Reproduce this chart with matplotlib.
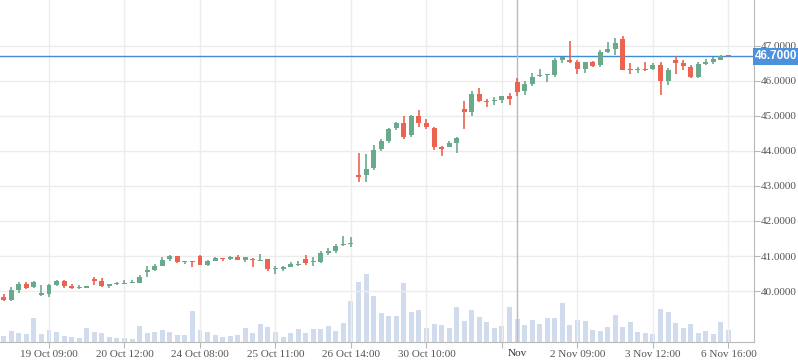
import matplotlib
matplotlib.use('Agg')
import matplotlib.pyplot as plt
import matplotlib.transforms as mtransforms
import numpy as np

plt.rcParams['font.family'] = ['Liberation Serif', 'DejaVu Serif']

# candle data, one entry per bar
opens = [39.84, 39.74, 40.03, 40.19, 40.11, 39.90, 39.91, 40.17, 40.29, 40.15,
         40.08, 40.10, 40.32, 40.29, 40.15, 40.21, 40.21, 40.24, 40.24, 40.54,
         40.60, 40.71, 40.91, 41.00, 40.83, 40.86, 41.00, 40.75, 40.87, 40.94,
         40.91, 40.97, 40.89, 40.92, 40.87, 40.91, 40.62, 40.64, 40.70, 40.74,
         40.91, 40.82, 40.83, 41.09, 41.15, 41.31, 41.35, 43.30, 43.30, 43.50,
         44.05, 44.29, 44.67, 44.80, 44.46, 45.00, 44.80, 44.66, 44.10, 44.10,
         44.24, 45.20, 45.11, 45.63, 45.44, 45.44, 45.46, 45.57, 45.97, 45.71,
         45.91, 46.13, 46.16, 46.18, 46.60, 46.60, 46.54, 46.34, 46.54, 46.47,
         46.83, 46.91, 47.20, 46.34, 46.31, 46.34, 46.34, 46.46, 46.01, 46.60,
         46.52, 46.40, 46.11, 46.49, 46.55, 46.60, 46.71]
highs = [39.91, 40.11, 40.27, 40.26, 40.29, 40.17, 40.19, 40.31, 40.31, 40.20,
         40.17, 40.15, 40.40, 40.36, 40.21, 40.27, 40.31, 40.31, 40.46, 40.71,
         40.76, 40.96, 41.04, 41.00, 40.86, 40.86, 41.02, 40.90, 40.97, 40.94,
         41.00, 41.03, 40.97, 40.94, 41.06, 40.91, 40.71, 40.72, 40.82, 40.86,
         41.03, 40.97, 41.15, 41.23, 41.33, 41.57, 41.54, 43.95, 43.91, 44.17,
         44.34, 44.67, 44.83, 45.01, 45.03, 45.17, 44.91, 44.69, 44.14, 44.29,
         44.41, 45.43, 45.71, 45.80, 45.49, 45.54, 45.57, 45.66, 46.09, 46.00,
         46.24, 46.34, 46.19, 46.66, 46.68, 47.14, 46.60, 46.54, 46.57, 46.89,
         47.11, 47.23, 47.29, 46.51, 46.40, 46.54, 46.51, 46.54, 46.37, 46.71,
         46.60, 46.47, 46.54, 46.63, 46.69, 46.73, 46.71]
lows = [39.71, 39.71, 39.95, 40.07, 40.10, 39.86, 39.84, 40.15, 40.10, 40.07,
        40.07, 40.08, 40.17, 40.12, 40.10, 40.18, 40.20, 40.23, 40.22, 40.41,
        40.57, 40.71, 40.87, 40.81, 40.78, 40.69, 40.73, 40.72, 40.85, 40.87,
        40.89, 40.89, 40.84, 40.70, 40.85, 40.58, 40.50, 40.58, 40.69, 40.71,
        40.75, 40.71, 40.80, 41.03, 41.10, 41.29, 41.26, 43.10, 43.12, 43.47,
        44.01, 44.24, 44.60, 44.34, 44.40, 44.69, 44.63, 44.04, 43.86, 44.10,
        43.95, 44.63, 45.00, 45.40, 45.26, 45.31, 45.37, 45.31, 45.57, 45.60,
        45.87, 46.12, 45.98, 46.10, 46.50, 46.50, 46.21, 46.24, 46.41, 46.41,
        46.80, 46.74, 46.31, 46.21, 46.24, 46.29, 46.31, 45.60, 45.89, 46.21,
        46.32, 46.09, 46.09, 46.47, 46.49, 46.60, 46.69]
closes = [39.74, 40.03, 40.20, 40.10, 40.26, 39.92, 40.17, 40.29, 40.14, 40.10,
          40.10, 40.12, 40.30, 40.15, 40.20, 40.23, 40.23, 40.26, 40.41, 40.60,
          40.71, 40.89, 41.00, 40.83, 40.86, 40.84, 40.75, 40.86, 40.95, 40.91,
          40.98, 40.89, 40.97, 40.89, 40.89, 40.64, 40.65, 40.70, 40.77, 40.76,
          40.80, 40.84, 41.09, 41.14, 41.30, 41.34, 41.38, 43.27, 43.49, 44.03,
          44.29, 44.63, 44.80, 44.40, 45.01, 44.80, 44.69, 44.10, 44.07, 44.24,
          44.37, 45.12, 45.63, 45.43, 45.41, 45.46, 45.57, 45.49, 45.69, 45.91,
          46.11, 46.15, 46.19, 46.60, 46.68, 46.54, 46.34, 46.54, 46.43, 46.83,
          46.91, 47.08, 46.31, 46.31, 46.34, 46.31, 46.46, 46.01, 46.31, 46.52,
          46.44, 46.11, 46.49, 46.54, 46.63, 46.70, 46.70]
volumes = [6, 11, 9, 8, 24, 8, 12, 10, 6, 5,
           4, 14, 10, 9, 5, 4, 4, 3, 16, 9,
           10, 12, 10, 7, 7, 31, 12, 10, 7, 5,
           6, 7, 14, 9, 18, 15, 10, 5, 9, 13,
           9, 13, 13, 16, 11, 19, 41, 60, 68, 46,
           29, 26, 26, 59, 30, 32, 14, 18, 17, 14,
           35, 21, 32, 25, 20, 14, 16, 35, 23, 17,
           22, 18, 24, 24, 39, 17, 22, 21, 12, 11,
           15, 27, 15, 20, 10, 9, 8, 33, 30, 19,
           14, 18, 9, 11, 8, 20, 12]

tick_pos = [6, 16, 26, 36, 46, 56, 66, 76, 86, 96]
tick_labels = ['19 Oct 09:00', '20 Oct 12:00', '24 Oct 08:00', '25 Oct 11:00',
               '26 Oct 14:00', '30 Oct 10:00', '', '2 Nov 09:00', '3 Nov 12:00',
               '6 Nov 16:00']
cursor_idx = 68
cursor_label = 'Nov'
last_price = 46.70

green = '#6aaa8c'
red = '#ec6352'
blue = '#3f8bd6'

o = np.array(opens)
h = np.array(highs)
l = np.array(lows)
c = np.array(closes)
x = np.arange(len(o))
up = c >= o
col = np.where(up, green, red)

fig = plt.figure(figsize=(7.98, 3.63), dpi=100)
rect = [0, 21 / 363, 754 / 798, 342 / 363]

# volume underneath
axv = fig.add_axes(rect)
axv.bar(x, volumes, width=0.66, color='#c5d4ea', alpha=0.8, zorder=1)
axv.set_ylim(0, 342)
axv.set_xlim(-0.49, 99.38)
axv.axis('off')

ax = fig.add_axes(rect, sharex=axv)
ax.patch.set_visible(False)
ax.set_xlim(-0.49, 99.38)
ax.set_ylim(38.543, 48.314)

ax.vlines(x, l, h, colors=col, linewidth=1.2, zorder=3)
body_lo = np.minimum(o, c)
body_h = np.maximum(np.abs(c - o), 0.03)
ax.bar(x, body_h, bottom=body_lo, width=0.66, color=col, zorder=4)

ax.axhline(last_price, color=blue, linewidth=1, zorder=2)
ax.axvline(cursor_idx, color='#bbbbbb', linewidth=1, zorder=2)

ax.set_yticks(np.arange(40, 48))
ax.set_yticklabels(['%.4f' % v for v in np.arange(40, 48)])
ax.set_xticks(tick_pos)
ax.set_xticklabels(tick_labels)
ax.yaxis.tick_right()
ax.grid(True, color='#ececec', linewidth=1, zorder=0)
ax.set_axisbelow(True)
for s in ['top', 'left']:
    ax.spines[s].set_visible(False)
for s in ['bottom', 'right']:
    ax.spines[s].set_color('#b8b8b8')
ax.tick_params(axis='both', colors='#b8b8b8', labelcolor='#555555',
               labelsize=8, length=4)
ax.tick_params(axis='y', pad=1)
ax.tick_params(axis='x', pad=2)

ax.text(cursor_idx, -0.02, cursor_label, transform=mtransforms.blended_transform_factory(ax.transData, ax.transAxes),
        ha='center', va='top', fontsize=8, color='#333333')

ax.text(1.0015, last_price, '%.4f' % last_price,
        transform=mtransforms.blended_transform_factory(ax.transAxes, ax.transData),
        ha='left', va='center', fontsize=8.5, color='white', fontweight='bold',
        family='Liberation Sans', zorder=10, clip_on=False,
        bbox=dict(boxstyle='square,pad=0.18', fc='#4b91db', ec='none'))

fig.savefig('out.png', dpi=100)
